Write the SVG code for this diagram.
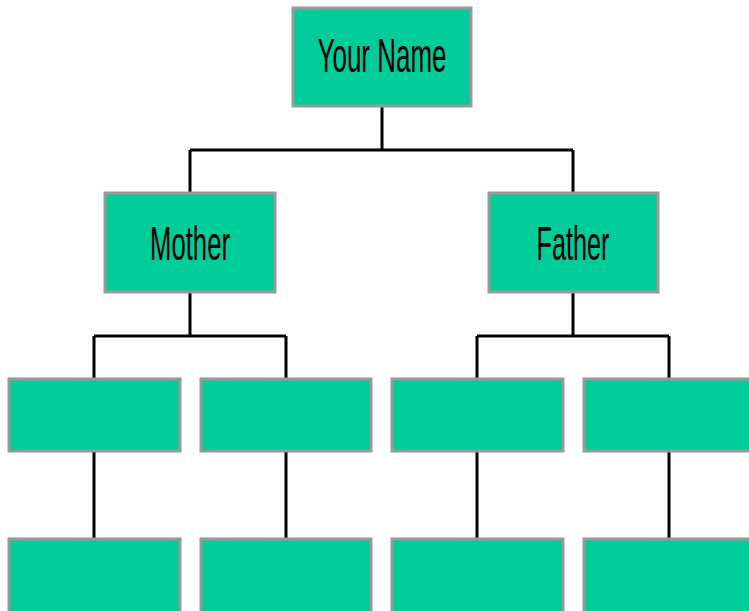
<svg xmlns="http://www.w3.org/2000/svg" width="749" height="611" viewBox="0 0 749 611">
<style>
.box{fill:#00CC99;stroke:#999999;stroke-width:3}
.ln{stroke:#000;stroke-width:3;fill:none}
.t{font-family:"Liberation Sans",Arial,sans-serif;font-size:48px;fill:#000;text-anchor:middle}
</style>
<rect width="749" height="611" fill="#fff"/>
<g id="connectors">
<path class="ln" d="M382 106V150M190 150H573M190 150V193M573 150V193"/>
<path class="ln" d="M190 292V336M94 336H286M94 336V379M286 336V379"/>
<path class="ln" d="M573 292V336M477 336H669M477 336V379M669 336V379"/>
<path class="ln" d="M94 451V539M286 451V539M477 451V539M669 451V539"/>
</g>
<g id="your-name"><rect class="box" x="293" y="8" width="178" height="98"/><text class="t" x="382" y="72" textLength="129" lengthAdjust="spacingAndGlyphs">Your Name</text></g>
<g id="mother"><rect class="box" x="105" y="193" width="170" height="99"/><text class="t" x="190" y="260" textLength="80" lengthAdjust="spacingAndGlyphs">Mother</text></g>
<g id="father"><rect class="box" x="489" y="193" width="169" height="99"/><text class="t" x="573" y="260" textLength="73" lengthAdjust="spacingAndGlyphs">Father</text></g>
<g id="mm"><rect class="box" x="9" y="379" width="171" height="72"/></g>
<g id="mf"><rect class="box" x="201" y="379" width="170" height="72"/></g>
<g id="fm"><rect class="box" x="392" y="379" width="171" height="72"/></g>
<g id="ff"><rect class="box" x="584" y="379" width="170" height="72"/></g>
<g id="mm2"><rect class="box" x="9" y="539" width="171" height="80"/></g>
<g id="mf2"><rect class="box" x="201" y="539" width="170" height="80"/></g>
<g id="fm2"><rect class="box" x="392" y="539" width="171" height="80"/></g>
<g id="ff2"><rect class="box" x="584" y="539" width="170" height="80"/></g>
</svg>
